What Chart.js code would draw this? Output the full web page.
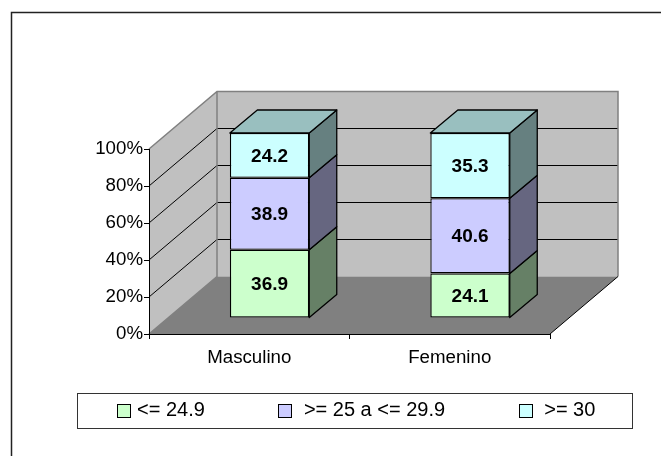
<!DOCTYPE html>
<html>
<head>
<meta charset="utf-8">
<style>html,body{margin:0;padding:0;background:#fff}canvas{display:block}</style>
<script src="https://cdn.jsdelivr.net/npm/chart.js@4"></script>
</head>
<body>
<canvas id="c" width="661" height="456"></canvas>
<script>
const categories = ['Masculino', 'Femenino'];
const seriesNames = ['<= 24.9', '>= 25 a <= 29.9', '>= 30'];
const lowValues = [36.9, 24.1];
const midValues = [38.9, 40.6];
const highValues = [24.2, 35.3];
const legendPrefixes = ['', ' ', ' '];

const fillColors = ['#CCFFCC', '#CCCCFF', '#CCFFFF'];
const sideColors = ['#668066', '#666680', '#668080'];
const topColors = ['#99BFBF', '#99BFBF', '#99BFBF'];

const FONT = '"Liberation Sans", Arial, sans-serif';
const WALL = { dx: 68, dy: -57.5 };   // depth of the floor and side wall
const BAR = { sx: 20.3, sy: -16, dx: 27.5, dy: -23 }; // bar placement inside that depth
const LEG = { x: 77, y: 393, w: 555, h: 35, mid: 410.5, first: 117, pad: 73.5, box: 13 };

function poly(ctx, pts, fill, stroke, lw) {
  ctx.beginPath();
  pts.forEach((p, i) => i ? ctx.lineTo(p[0], p[1]) : ctx.moveTo(p[0], p[1]));
  ctx.closePath();
  if (fill) { ctx.fillStyle = fill; ctx.fill(); }
  if (stroke) { ctx.strokeStyle = stroke; ctx.lineWidth = lw || 1; ctx.lineJoin = 'round'; ctx.stroke(); }
}

const scene = {
  id: 'scene',
  beforeLayout(chart) {
    const l = chart.legend;
    if (l && !l._fitWrapped) {
      const orig = l.fit;
      l.fit = function () { orig.call(this); this.height = 1; };
      l._fitWrapped = true;
    }
  },
  afterLayout(chart) {
    const l = chart.legend;
    l.left = LEG.first - LEG.pad;
    l.right = chart.width + 200;
    l.width = l.right - l.left;
    l.top = LEG.mid - 10 - LEG.pad;
    l.bottom = chart.height;
    l.height = l.bottom - l.top;
  },
  beforeDraw(chart) {
    const { ctx, chartArea: a, scales: { y } } = chart;
    ctx.save();
    ctx.fillStyle = '#fff';
    ctx.fillRect(0, 0, chart.width, chart.height);
    // outer frame
    ctx.strokeStyle = '#222';
    ctx.lineWidth = 1.5;
    ctx.beginPath();
    ctx.moveTo(11.5, chart.height);
    ctx.lineTo(11.5, 12.5);
    ctx.lineTo(chart.width, 12.5);
    ctx.stroke();
    // legend frame
    ctx.strokeStyle = '#333';
    ctx.lineWidth = 1;
    ctx.strokeRect(LEG.x + .5, LEG.y + .5, LEG.w, LEG.h);

    const L = a.left, R = a.right, T = a.top, B = a.bottom, dx = WALL.dx, dy = WALL.dy;
    poly(ctx, [[L + dx, T + dy], [R + dx, T + dy], [R + dx, B + dy], [L + dx, B + dy]], '#C0C0C0');
    poly(ctx, [[L, T], [L + dx, T + dy], [L + dx, B + dy], [L, B]], '#C0C0C0');
    poly(ctx, [[L, B], [L + dx, B + dy], [R + dx, B + dy], [R, B]], '#808080');
    // gridlines over the side and back walls
    ctx.strokeStyle = '#000';
    ctx.lineWidth = 1;
    y.ticks.forEach(t => {
      if (t.value <= y.min || t.value >= y.max) return;
      const py = Math.round(y.getPixelForValue(t.value));
      ctx.beginPath();
      ctx.moveTo(L, py);
      ctx.lineTo(L + dx, py + dy);
      ctx.lineTo(R + dx, py + dy);
      ctx.stroke();
    });
    // wall outlines
    ctx.strokeStyle = '#808080';
    ctx.lineWidth = 1.5;
    ctx.beginPath();
    ctx.moveTo(L, T); ctx.lineTo(L + dx, T + dy); ctx.lineTo(R + dx, T + dy); ctx.lineTo(R + dx, B + dy);
    ctx.moveTo(L + dx, T + dy); ctx.lineTo(L + dx, B + dy); ctx.lineTo(L, B);
    ctx.stroke();
    ctx.strokeStyle = '#000';
    ctx.lineWidth = 1;
    ctx.beginPath();
    ctx.moveTo(R, B); ctx.lineTo(R + dx, B + dy);
    ctx.stroke();
    ctx.restore();
  },
  beforeDatasetsDraw(chart) {
    const ctx = chart.ctx;
    ctx.save();
    ctx.translate(BAR.sx, BAR.sy);
    const last = chart.data.datasets.length - 1;
    chart.data.datasets.forEach((ds, i) => {
      chart.getDatasetMeta(i).data.forEach(el => {
        const p = el.getProps(['x', 'y', 'base', 'width'], true);
        const l = p.x - p.width / 2, r = p.x + p.width / 2;
        poly(ctx, [[r, p.y], [r + BAR.dx, p.y + BAR.dy], [r + BAR.dx, p.base + BAR.dy], [r, p.base]], sideColors[i], '#000', 1.3);
        if (i === last) {
          poly(ctx, [[l, p.y], [l + BAR.dx, p.y + BAR.dy], [r + BAR.dx, p.y + BAR.dy], [r, p.y]], topColors[i], '#000', 1.3);
        }
      });
    });
  },
  afterDatasetsDraw(chart) {
    const ctx = chart.ctx;
    ctx.fillStyle = '#000';
    ctx.font = 'bold 19px ' + FONT;
    ctx.textAlign = 'center';
    ctx.textBaseline = 'middle';
    chart.data.datasets.forEach((ds, i) => {
      chart.getDatasetMeta(i).data.forEach((el, j) => {
        const p = el.getProps(['x', 'y', 'base'], true);
        ctx.fillText(ds.data[j].toFixed(1), p.x, (p.y + p.base) / 2 + 1);
      });
    });
    ctx.restore();
  },
  afterDraw(chart) {
    const ctx = chart.ctx;
    ctx.save();
    let x = LEG.first;
    chart.legend.legendHitBoxes.forEach((hb, i) => {
      const top = Math.round(LEG.mid - LEG.box / 2);
      const left = Math.round(x);
      ctx.fillStyle = fillColors[i];
      ctx.fillRect(left + .5, top + .5, LEG.box, LEG.box);
      ctx.strokeStyle = '#000';
      ctx.lineWidth = 1;
      ctx.strokeRect(left + .5, top + .5, LEG.box, LEG.box);
      x += hb.width + LEG.pad;
    });
    ctx.restore();
  }
};

const seriesValues = [lowValues, midValues, highValues];

new Chart(document.getElementById('c'), {
  type: 'bar',
  data: {
    labels: categories,
    datasets: seriesNames.map((name, i) => ({
      label: name,
      data: seriesValues[i],
      backgroundColor: fillColors[i],
      borderColor: '#000',
      borderWidth: 1.3,
      borderSkipped: false,
      barPercentage: 0.396,
      categoryPercentage: 1,
      clip: false
    }))
  },
  options: {
    responsive: false,
    animation: false,
    layout: { padding: { left: 0, top: 149, right: 111, bottom: 91 } },
    scales: {
      x: {
        stacked: true,
        afterFit: s => { s.height = 30; },
        border: { display: true, color: '#000', width: 1 },
        grid: { drawOnChartArea: false, drawTicks: true, tickLength: 5, color: '#000', offset: true },
        ticks: { color: '#000', font: { family: FONT, size: 18.7 }, padding: 8, maxRotation: 0 }
      },
      y: {
        stacked: true,
        min: 0,
        max: 100,
        afterFit: s => { s.width = 149; },
        border: { display: true, color: '#000', width: 1 },
        grid: { drawOnChartArea: false, drawTicks: true, tickLength: 5, color: '#000' },
        ticks: { stepSize: 20, color: '#000', font: { family: FONT, size: 18.7 }, padding: 1, callback: v => v + '%' }
      }
    },
    plugins: {
      title: { display: false },
      tooltip: { enabled: false },
      legend: {
        display: true,
        position: 'bottom',
        align: 'start',
        labels: {
          boxWidth: 10,
          boxHeight: 10,
          padding: LEG.pad,
          color: '#000',
          font: { family: FONT, size: 20 },
          generateLabels: chart => chart.data.datasets.map((ds, i) => ({
            text: legendPrefixes[i] + ds.label,
            fillStyle: 'rgba(0,0,0,0)',
            strokeStyle: 'rgba(0,0,0,0)',
            lineWidth: 0,
            datasetIndex: i
          }))
        }
      }
    }
  },
  plugins: [scene]
});
</script>
</body>
</html>
